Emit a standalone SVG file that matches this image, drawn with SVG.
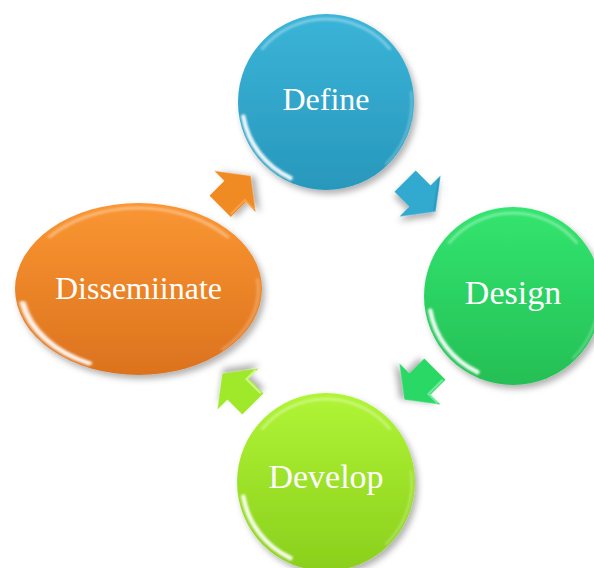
<svg xmlns="http://www.w3.org/2000/svg" xmlns:xlink="http://www.w3.org/1999/xlink" width="594" height="568" viewBox="0 0 594 568">
  <style>
    .lbl { font-family: "Liberation Serif", "Times New Roman", serif; font-size: 32px; fill: #ffffff; text-anchor: middle; }
    .big { font-size: 34px; }
    .hl { fill: none; stroke: #ffffff; stroke-linecap: round; }
  </style>
  <defs>
    <linearGradient id="gBlue" x1="0" y1="0" x2="0" y2="1">
      <stop offset="0" stop-color="#3AB4D8"/>
      <stop offset="1" stop-color="#2898BC"/>
    </linearGradient>
    <linearGradient id="gGreen" x1="0" y1="0" x2="0" y2="1">
      <stop offset="0" stop-color="#32E56F"/>
      <stop offset="1" stop-color="#25BF55"/>
    </linearGradient>
    <linearGradient id="gLime" x1="0" y1="0" x2="0" y2="1">
      <stop offset="0" stop-color="#B0F536"/>
      <stop offset="1" stop-color="#8ACF1C"/>
    </linearGradient>
    <linearGradient id="gOrange" x1="0" y1="0" x2="0" y2="1">
      <stop offset="0" stop-color="#FA9632"/>
      <stop offset="1" stop-color="#DC721E"/>
    </linearGradient>
    <filter id="shadow" x="-20%" y="-20%" width="140%" height="140%">
      <feDropShadow dx="3" dy="4" stdDeviation="3" flood-color="#000" flood-opacity="0.3"/>
    </filter>
    <filter id="soft" x="-20%" y="-20%" width="140%" height="140%">
      <feGaussianBlur stdDeviation="1.2"/>
    </filter>
    <g id="hl" filter="url(#soft)">
      <path class="hl" d="M-82.7,14.6 A84,84 0 0,0 -35.5,76.1" stroke-width="4.5" stroke-opacity="0.9"/>
      <path class="hl" d="M-63.6,-53.4 A83,83 0 0,1 63.6,-53.4" stroke-width="3" stroke-opacity="0.35"/>
      <path class="hl" d="M85,-10 A86,86 0 0,1 60,62" stroke-width="2" stroke-opacity="0.3"/>
    </g>
    <path id="arrow" d="M-21,-15 H0 V-29 L22,0 L0,29 V15 H-21 Z"/>
  </defs>

  <g id="connectors">
    <g transform="translate(235,191.5) rotate(-45)" filter="url(#shadow)">
      <use xlink:href="#arrow" href="#arrow" fill="#F08A24"/>
      <path d="M-19,13 H1 V26" fill="none" stroke="#FFB060" stroke-width="2" stroke-opacity="0.6"/>
    </g>
    <g transform="translate(420,196) rotate(45)" filter="url(#shadow)">
      <use xlink:href="#arrow" href="#arrow" fill="#33A9CE"/>
      <path d="M1,-26 L20,0" fill="none" stroke="#1E8AAE" stroke-width="2" stroke-opacity="0.5"/>
    </g>
    <g transform="translate(420,384) rotate(135)" filter="url(#shadow)">
      <use xlink:href="#arrow" href="#arrow" fill="#2CD866"/>
      <path d="M-19,-13 H1 V-26" fill="none" stroke="#8AF5B0" stroke-width="2" stroke-opacity="0.7"/>
    </g>
    <g transform="translate(238,389) rotate(-135)" filter="url(#shadow)">
      <use xlink:href="#arrow" href="#arrow" fill="#9FE82A"/>
      <path d="M-19,13 H1 V26" fill="none" stroke="#E0FFA0" stroke-width="2" stroke-opacity="0.7"/>
    </g>
  </g>

  <g id="define" transform="translate(326,102)">
    <circle r="88" fill="url(#gBlue)" filter="url(#shadow)"/>
    <use xlink:href="#hl" href="#hl"/>
    <text class="lbl" x="0" y="8">Define</text>
  </g>

  <g id="design" transform="translate(513,296)">
    <circle r="89" fill="url(#gGreen)" filter="url(#shadow)"/>
    <use xlink:href="#hl" href="#hl"/>
    <text class="lbl big" x="0" y="8">Design</text>
  </g>

  <g id="develop" transform="translate(326,482)">
    <circle r="89" fill="url(#gLime)" filter="url(#shadow)"/>
    <use xlink:href="#hl" href="#hl"/>
    <text class="lbl big" x="0" y="6">Develop</text>
  </g>

  <g id="disseminate" transform="translate(138.5,289)">
    <ellipse rx="123.5" ry="86" fill="url(#gOrange)" filter="url(#shadow)"/>
    <g transform="scale(1.4,0.975)">
      <use xlink:href="#hl" href="#hl"/>
    </g>
    <text class="lbl" x="0" y="10">Dissemiinate</text>
  </g>
</svg>
